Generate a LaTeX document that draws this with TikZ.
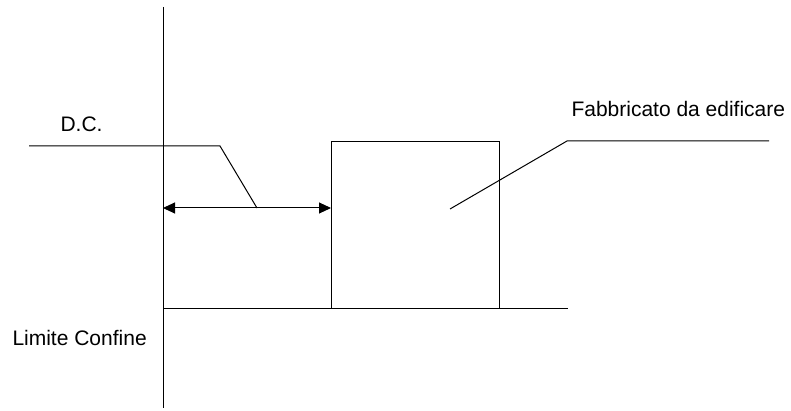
\documentclass[tikz,border=0pt]{standalone}
\usepackage{fontspec}
\setmainfont{Liberation Sans}
\usetikzlibrary{arrows.meta}

\begin{document}
\begin{tikzpicture}[x=0.5pt, y=-0.5pt, line width=0.5pt,
    txt/.style={anchor=base west, inner sep=0pt, font=\fontsize{10.5}{12}\selectfont},
    quota/.style={{Triangle[length=6pt,width=5.5pt]}-{Triangle[length=6pt,width=5.5pt]}}]
    \useasboundingbox (0,0) rectangle (791,411);
    % limite confine
    \coordinate (cTop) at (163,7);
    \coordinate (cBot) at (163,408);
    \draw (cTop) -- (cBot);
    \coordinate (gEnd) at (568,308);
    \draw (163,308) -- (gEnd);
    \node[txt] (lim) at (12,345) {Limite Confine};
    % fabbricato
    \coordinate (fA) at (331,308);
    \coordinate (fB) at (499,142);
    \draw (fA) -- (331,142) -- (fB) -- (499,308);
    % distanza dal confine
    \coordinate (dL) at (163,208);
    \coordinate (dR) at (331,208);
    \draw[quota] (dL) -- (dR);
    \coordinate (dMid) at (257,208);
    \coordinate (dcA) at (29,146);
    \coordinate (dcB) at (220,146);
    \draw (dcA) -- (dcB) -- (dMid);
    \node[txt] (dc) at (60,132) {D.C.};
    % richiamo fabbricato
    \coordinate (fbA) at (450,209);
    \coordinate (fbB) at (567,141);
    \coordinate (fbC) at (769,141);
    \draw (fbA) -- (fbB) -- (fbC);
    \node[txt] (fab) at (571,117) {Fabbricato da edificare};
\end{tikzpicture}
\end{document}
